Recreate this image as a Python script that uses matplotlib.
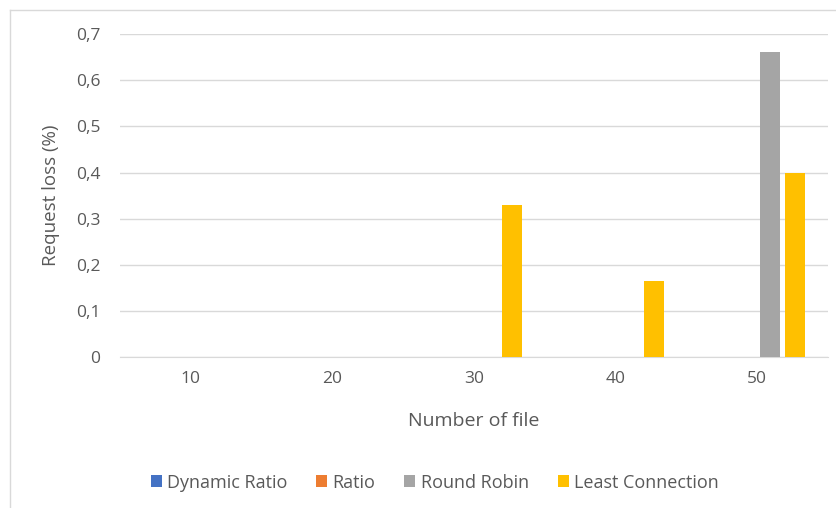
import matplotlib.pyplot as plt
import numpy as np
from matplotlib.lines import Line2D

plt.rcParams['font.family'] = ['Open Sans', 'DejaVu Sans']

files = ['10', '20', '30', '40', '50']
series = ['Dynamic Ratio', 'Ratio', 'Round Robin', 'Least Connection']
dynamic_ratio = [0, 0, 0, 0, 0]
ratio = [0, 0, 0, 0, 0]
round_robin = [0, 0, 0, 0, 0.66]
least_conn = [0, 0, 0.33, 0.165, 0.40]
colors = ['#4472C4', '#ED7D31', '#A5A5A5', '#FFC000']

txt = '#595959'
fig = plt.figure(figsize=(8.37, 5.08), dpi=100)
ax = fig.add_axes([0.143, 0.297, 0.846, 0.636])

x = np.arange(len(files))
w = 0.14
step = 0.18
vals = [dynamic_ratio, ratio, round_robin, least_conn]
for i, (v, c, name) in enumerate(zip(vals, colors, series)):
    ax.bar(x + (i - 1.5) * step, v, width=w, color=c, label=name, zorder=3)

ax.set_xlim(-0.5, len(files) - 0.5)
ax.set_ylim(0, 0.7)
yt = np.arange(0, 0.71, 0.1)
ax.set_yticks(yt)
ax.set_yticklabels(['0'] + [('%.1f' % t).replace('.', ',') for t in yt[1:]])
ax.set_xticks(x)
ax.set_xticklabels(files)
ax.grid(axis='y', color='#d9d9d9', linewidth=1, zorder=0)
for s in ['top', 'right', 'left']:
    ax.spines[s].set_visible(False)
ax.spines['bottom'].set_color('#d9d9d9')
ax.tick_params(axis='both', length=0, colors=txt, labelsize=12.5)
ax.tick_params(axis='y', pad=14)
ax.tick_params(axis='x', pad=10)
ax.set_xlabel('Number of file', color=txt, fontsize=14, labelpad=18)
ax.set_ylabel('Request loss (%)', color=txt, fontsize=13.5, labelpad=11)

ax.legend(loc='upper center', bbox_to_anchor=(0.445, -0.31), ncol=4, frameon=False,
          fontsize=13, handlelength=0.6, handleheight=0.6, handletextpad=0.3,
          columnspacing=1.6, labelcolor=txt)

# chart frame
fig.add_artist(Line2D([10 / 837, 10 / 837], [0, 1 - 10 / 508], color='#d9d9d9', lw=1))
fig.add_artist(Line2D([10 / 837, 1], [1 - 10 / 508, 1 - 10 / 508], color='#d9d9d9', lw=1))

fig.savefig('out.png', dpi=100)
